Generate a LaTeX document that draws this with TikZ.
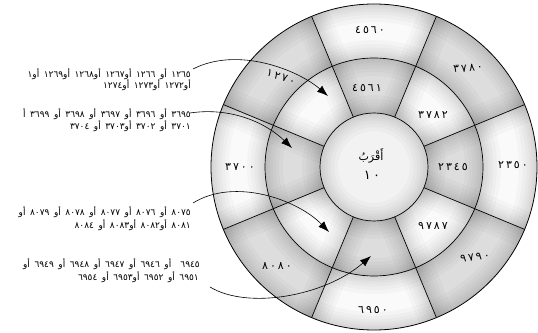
\documentclass[tikz,border=0pt]{standalone}
\usepackage{fontspec}
\usetikzlibrary{arrows.meta}
\TeXXeTstate=1
\newfontfamily\arabicfont[Script=Arabic]{DejaVu Sans}
\newfontfamily\arabicnote[Script=Arabic,WordSpace=1.6]{DejaVu Sans}
\newfontfamily\arabicwide[Script=Arabic,LetterSpace=18]{DejaVu Sans}
\definecolor{celllight}{HTML}{FAFAFA}
\definecolor{celldark}{HTML}{DDDDDD}
\definecolor{hubfill}{HTML}{F2F2F2}
\tikzset{
  note/.style={font=\arabicnote\fontsize{9}{11}\selectfont, inner sep=0pt, anchor=base east},
  ringlabel/.style={font=\arabicwide\fontsize{11}{13}\selectfont, inner sep=0pt},
  hublabel/.style={font=\arabicfont\fontsize{11}{13}\selectfont, inner sep=0pt},
  gridline/.style={line width=0.7pt, black},
  pointer/.style={line width=0.6pt, -{Latex[length=11pt,width=8pt]}},
}
\begin{document}
\begin{tikzpicture}[x=1pt,y=1pt]
\useasboundingbox (0,0) rectangle (538,332);
\coordinate (C) at (374,165);
\begin{scope}[shift={(374,165)}]
  \begin{scope}
    \clip (0,0) circle (163);
    \foreach \i in {0,...,7}{
      \pgfmathsetmacro\a{90-45*\i}
      \pgfmathsetmacro\b{\a-22.5}
      \pgfmathsetmacro\c{\a+22.5}
      \ifodd\i \def\oc{celldark}\def\mc{celllight}\else\def\oc{celllight}\def\mc{celldark}\fi
      \fill[fill=\oc] (\b:109) arc[start angle=\b,end angle=\c,radius=109] -- (\c:163) arc[start angle=\c,end angle=\b,radius=163] -- cycle;
      \fill[fill=\mc] (\b:54) arc[start angle=\b,end angle=\c,radius=54] -- (\c:109) arc[start angle=\c,end angle=\b,radius=109] -- cycle;
    }
    \foreach \w in {36,28,21,15,10,5}{
      \draw[line width=\w pt, black, opacity=0.025]
        \foreach \s in {22.5,67.5,...,337.5}{ (0,0) -- (\s:170) };
    }
    \fill[hubfill] (0,0) circle (54);
    \foreach \w in {36,28,21,15,10,5}{
      \draw[line width=\w pt, black, opacity=0.025] (0,0) circle (54) (0,0) circle (109) (0,0) circle (163);
    }
  \end{scope}
  \draw[gridline] \foreach \s in {22.5,67.5,...,337.5}{ (\s:54) -- (\s:163) };
  \draw[gridline] (0,0) circle (54) (0,0) circle (109);
  \draw[gridline, line width=0.8pt] (0,0) circle (163);
\end{scope}

% ring labels
\node[ringlabel] (o1) at (370,302) {٤٥٦٠};
\node[ringlabel, rotate=-18] (o2) at (281,255) {١٢٧٠};
\node[ringlabel, rotate=5] (o3) at (468,264) {٣٧٨٠};
\node[ringlabel] (o4) at (513,167) {٢٣٥٠};
\node[ringlabel, rotate=8] (o5) at (475,75) {٩٧٩٠};
\node[ringlabel] (o6) at (373,22) {٦٩٥٠};
\node[ringlabel] (o7) at (277,66) {٨٠٨٠};
\node[ringlabel] (o8) at (240,165) {٣٧٠٠};
\node[ringlabel] (m1) at (367,244) {٤٥٦١};
\node[ringlabel] (m2) at (433,217) {٣٧٨٢};
\node[ringlabel] (m3) at (453,165) {٢٣٤٥};
\node[ringlabel] (m4) at (433,106) {٩٧٨٧};
\node[hublabel] (h1) at (371,176) {\beginR أَقْرَبُ\endR};
\node[ringlabel, font=\arabicwide\fontsize{13}{15}\selectfont] (h2) at (372,157) {١٠};

% notes
\node[note] (t1a) at (191,254) {\beginR ١٢٦٥ أو ١٢٦٦ أو١٢٦٧ أو١٢٦٨ أو١٢٦٩ أو١\endR};
\node[note] (t1b) at (191,243) {\beginR أو١٢٧٢ أو١٢٧٣ أو١٢٧٤\endR};
\node[note] (t2a) at (191,214) {\beginR ٣٦٩٥ أو ٣٦٩٦ أو ٣٦٩٧ أو ٣٦٩٨ أو ٣٦٩٩ أ\endR};
\node[note] (t2b) at (191,202) {\beginR ٣٧٠١ أو ٣٧٠٢ أو٣٧٠٣ أو ٣٧٠٤\endR};
\node[note] (t3a) at (191,116) {\beginR ٨٠٧٥ أو ٨٠٧٦ أو ٨٠٧٧ أو ٨٠٧٨ أو ٨٠٧٩ أو\endR};
\node[note] (t3b) at (191,103) {\beginR ٨٠٨١ أو٨٠٨٢ أو٨٠٨٣ أو ٨٠٨٤\endR};
\node[note] (t4a) at (200,64) {\beginR ٦٩٤٥~ أو ٦٩٤٦ أو ٦٩٤٧ أو ٦٩٤٨ أو ٦٩٤٩ أو\endR};
\node[note] (t4b) at (199,51) {\beginR ٦٩٥١ أو ٦٩٥٢ أو٦٩٥٣ أو ٦٩٥٤\endR};

% arrow ends
\coordinate (s1) at ([shift={(2,9)}]t1a.base east);
\coordinate (s2) at ([shift={(-1,5)}]t2a.base east);
\coordinate (s3) at ([shift={(2,13)}]t3a.base east);
\coordinate (s4) at ([shift={(11,-6)}]t4b.base east);
\coordinate (e1) at (328,236);
\coordinate (e2) at (292,184);
\coordinate (e3) at (329,100);
\coordinate (e4) at (371,76);
\draw[pointer] (s1) .. controls (238,286) and (298,262) .. (e1);
\draw[pointer] (s2) .. controls (230,225) and (265,210) .. (e2);
\draw[pointer] (s3) .. controls (235,155) and (298,132) .. (e3);
\draw[pointer] (s4) .. controls (248,22) and (325,36) .. (e4);
\end{tikzpicture}
\end{document}
